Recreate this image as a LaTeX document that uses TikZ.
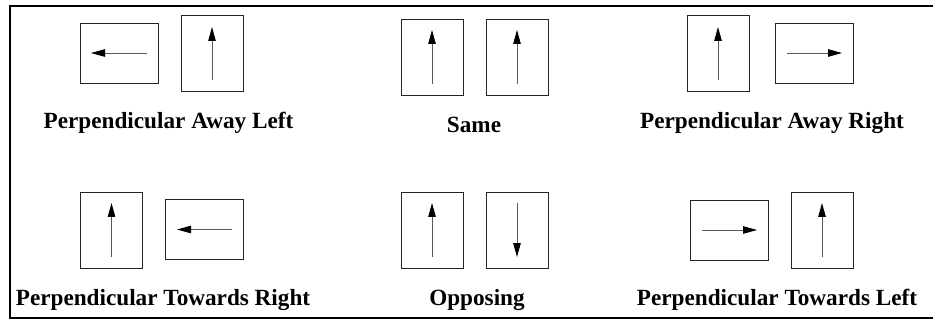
\documentclass[tikz,border=0pt]{standalone}
\usepackage{fontspec}
\setmainfont{Liberation Serif}
\usetikzlibrary{arrows.meta,calc}

\tikzset{
  panel/.style={draw=black!85, line width=0.9pt, fill=none, inner sep=0pt},
  tall/.style={panel, minimum width=62pt, minimum height=76pt},
  wide/.style={panel, minimum width=78pt, minimum height=60pt},
  arr/.style={draw=black!65, line width=0.9pt,
    -{Triangle[length=14pt,width=7.5pt,black]}},
  caption/.style={font=\bfseries\fontsize{23.2}{27}\selectfont, anchor=base,
    inner sep=0pt},
  frame/.style={draw=black, line width=2pt}
}

\begin{document}
\begin{tikzpicture}[x=1pt,y=-1pt]
  \useasboundingbox (0,0) rectangle (933,320);
  \clip (0,0) rectangle (933,320);

  % outer frame (its right side lies past the edge)
  \coordinate (fTL) at (10,6);
  \coordinate (fBR) at (960,318);
  \draw[frame] (fTL) rectangle (fBR);

  % ---- top row ----
  % perpendicular away left
  \node[wide] (a1) at (119,53) {};
  \node[tall] (a2) at (212,53.5) {};
  \draw[arr] ($(a1.center)+(28,0)$) -- ($(a1.center)+(-28,0)$);
  \draw[arr] ($(a2.center)+(0,26.5)$) -- ($(a2.center)+(0,-26.5)$);
  \node[caption] (ta) at (168.5,129) {Perpendicular Away Left};

  % same
  \node[tall] (b1) at (432,57) {};
  \node[tall] (b2) at (517,57) {};
  \draw[arr] ($(b1.center)+(0,27)$) -- ($(b1.center)+(0,-27)$);
  \draw[arr] ($(b2.center)+(0,27)$) -- ($(b2.center)+(0,-27)$);
  \node[caption] (tb) at (474,133) {Same};

  % perpendicular away right
  \node[tall] (c1) at (718,53.5) {};
  \node[wide] (c2) at (814,53) {};
  \draw[arr] ($(c1.center)+(0,26.5)$) -- ($(c1.center)+(0,-26.5)$);
  \draw[arr] ($(c2.center)+(-27,0)$) -- ($(c2.center)+(28,0)$);
  \node[caption] (tc) at (772,129) {Perpendicular Away Right};

  % ---- bottom row ----
  % perpendicular towards right
  \node[tall] (d1) at (111.5,230) {};
  \node[wide] (d2) at (204,229.5) {};
  \draw[arr] ($(d1.center)+(0,27)$) -- ($(d1.center)+(0,-27)$);
  \draw[arr] ($(d2.center)+(28,0)$) -- ($(d2.center)+(-27,0)$);
  \node[caption] (td) at (163,305) {Perpendicular Towards Right};

  % opposing
  \node[tall] (e1) at (432,230) {};
  \node[tall] (e2) at (517,230) {};
  \draw[arr] ($(e1.center)+(0,27)$) -- ($(e1.center)+(0,-27)$);
  \draw[arr] ($(e2.center)+(0,-27)$) -- ($(e2.center)+(0,27)$);
  \node[caption] (te) at (477,305) {Opposing};

  % perpendicular towards left
  \node[wide] (f1) at (729,230) {};
  \node[tall] (f2) at (822,230) {};
  \draw[arr] ($(f1.center)+(-27,0)$) -- ($(f1.center)+(28,0)$);
  \draw[arr] ($(f2.center)+(0,27)$) -- ($(f2.center)+(0,-27)$);
  \node[caption] (tf) at (777,305) {Perpendicular Towards Left};
\end{tikzpicture}
\end{document}
